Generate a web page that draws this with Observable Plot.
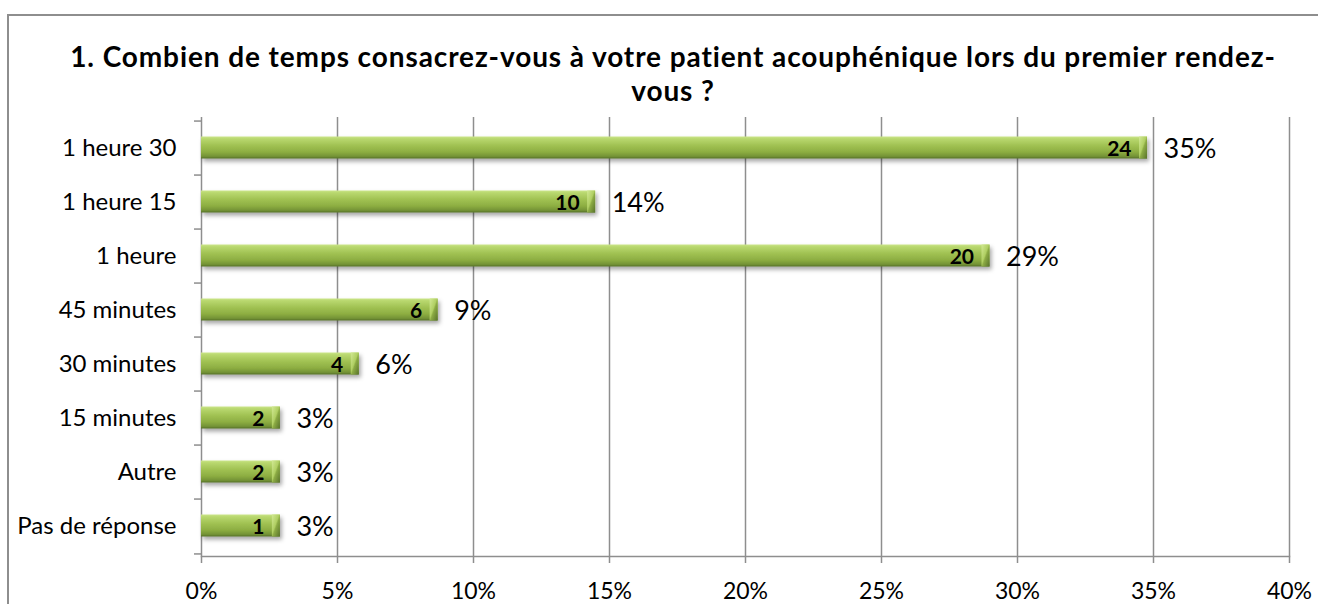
<!DOCTYPE html>
<html>
<head>
<meta charset="utf-8">
<script src="https://cdn.jsdelivr.net/npm/d3@7"></script>
<script src="https://cdn.jsdelivr.net/npm/@observablehq/plot@0.6"></script>
<style>
  html, body { margin: 0; padding: 0; background: #fff; overflow: hidden; }
  #frame { position: absolute; left: 7px; top: 14px; width: 1400px; height: 700px; border: 2px solid #8e8e8e; box-sizing: border-box; }
  #title { position: absolute; left: 0; top: 39px; width: 1346px; text-align: center; font-family: Lato, sans-serif; font-weight: bold; font-size: 28px; letter-spacing: 0.9px; line-height: 34px; color: #000; font-variant-ligatures: none; font-feature-settings: "liga" 0; }
  #chart { position: absolute; left: 0; top: 0; }
  #chart svg text { font-variant-ligatures: none; }
</style>
</head>
<body>
<div id="frame"></div>
<div id="chart"></div>
<div id="title">1. Combien de temps consacrez-vous à votre patient acouphénique lors du premier rendez-<br>vous ?</div>
<script>
const categories = ["1 heure 30", "1 heure 15", "1 heure", "45 minutes", "30 minutes", "15 minutes", "Autre", "Pas de réponse"];
const counts = [24, 10, 20, 6, 4, 2, 2, 1];
const shares = [0.3478, 0.1449, 0.2899, 0.0870, 0.0580, 0.0290, 0.0290, 0.0290];
const xTicks = [0, 0.05, 0.10, 0.15, 0.20, 0.25, 0.30, 0.35, 0.40];

const W = 1318, H = 604, mT = 117, mB = 48, mL = 201, mR = 29;
const bw = (H - mT - mB) / categories.length;
const idx = categories.map((_, i) => i);
const pct = d3.format(".0%");
const grey = "#8e8e8e";

const chart = Plot.plot({
  width: W, height: H,
  marginTop: mT, marginBottom: mB, marginLeft: mL, marginRight: mR,
  style: { fontFamily: "Lato, sans-serif", fontSize: "22px", color: "#000", background: "transparent", overflow: "visible" },
  x: { domain: [0, 0.4], ticks: xTicks, tickFormat: pct },
  y: { domain: categories, padding: 0 },
  marks: [
    Plot.ruleX(xTicks.slice(1), { stroke: grey, strokeWidth: 1.5 }),
    Plot.ruleX([0], { stroke: grey, strokeWidth: 1.5 }),
    Plot.frame({ anchor: "bottom", stroke: grey, strokeWidth: 1.5 }),
    Plot.ruleY(categories, { y: d => d, x1: 0, x2: 0, insetLeft: -7, dy: -bw / 2, stroke: grey, strokeWidth: 1.5 }),
    Plot.ruleY(categories.slice(-1), { y: d => d, x1: 0, x2: 0, insetLeft: -7, dy: bw / 2, stroke: grey, strokeWidth: 1.5 }),
    Plot.barX(idx, { x: i => shares[i], y: i => categories[i], fill: "url(#barGrad)", insetTop: 15.5, insetBottom: 16.5 }),
    Plot.barX(idx, { x1: i => shares[i], x2: i => shares[i], y: i => categories[i], fill: "url(#bevelGrad)", insetTop: 15.5, insetBottom: 16.5, insetLeft: -8 }),
    Plot.text(idx, { x: i => shares[i], y: i => categories[i], text: i => String(counts[i]), textAnchor: "end", dx: -16, dy: 1, fontSize: 21, fontWeight: "bold", fill: "#000" }),
    Plot.text(idx, { x: i => shares[i], y: i => categories[i], text: i => pct(shares[i]), textAnchor: "start", dx: 16, dy: 1, fontSize: 27, fill: "#000" }),
    Plot.axisX({ ticks: xTicks, tickFormat: pct, tickSize: 7, tickPadding: 19, stroke: grey, strokeWidth: 1.5, fontSize: 23, fill: "#000" }),
    Plot.axisY({ tickSize: 0, tickPadding: 25, fontSize: 24, fill: "#000" })
  ]
});

const svg = d3.select(chart);
svg.insert("defs", ":first-child").html(`
  <linearGradient id="barGrad" x1="0" y1="0" x2="0" y2="1">
    <stop offset="0" stop-color="#cbe58a"/>
    <stop offset="0.1" stop-color="#b9d86f"/>
    <stop offset="0.4" stop-color="#a1c253"/>
    <stop offset="0.7" stop-color="#8dae42"/>
    <stop offset="0.9" stop-color="#749335"/>
    <stop offset="1" stop-color="#56702a"/>
  </linearGradient>
  <linearGradient id="bevelGrad" x1="0" y1="0" x2="1" y2="1">
    <stop offset="0" stop-color="#d2e994"/>
    <stop offset="0.45" stop-color="#b0cf63"/>
    <stop offset="0.55" stop-color="#8cab44"/>
    <stop offset="1" stop-color="#58722a"/>
  </linearGradient>
  <filter id="shadow" x="-5%" y="-30%" width="115%" height="190%">
    <feDropShadow dx="2" dy="3" stdDeviation="2" flood-color="#000" flood-opacity="0.35"/>
  </filter>
`);
svg.selectAll("g[aria-label='bar']").filter((d, i) => i === 0).attr("filter", "url(#shadow)");

document.getElementById("chart").appendChild(chart);
</script>
</body>
</html>
